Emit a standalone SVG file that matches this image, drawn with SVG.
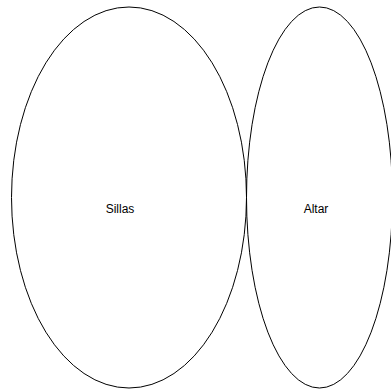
<svg xmlns="http://www.w3.org/2000/svg" width="391" height="389" viewBox="0 0 391 389">
<style>
.n{fill:none;stroke:#000;stroke-width:1}
.t{font-family:"Liberation Sans",Arial,sans-serif;font-size:12px;fill:#000;text-anchor:middle}
</style>
<rect width="391" height="389" fill="#fff"/>
<g id="sillas"><ellipse class="n" cx="129" cy="197.5" rx="117.5" ry="190.5"/><text class="t" x="120" y="213">Sillas</text></g>
<g id="altar"><ellipse class="n" cx="319.5" cy="197.5" rx="73" ry="190.5"/><text class="t" x="316" y="213">Altar</text></g>
<g id="connectors"></g>
</svg>
